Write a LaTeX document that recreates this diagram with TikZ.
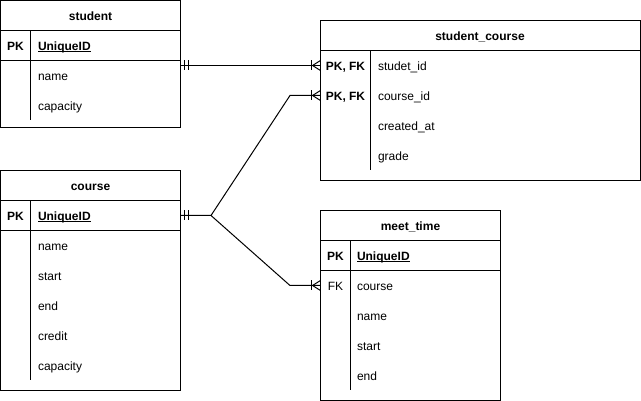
\documentclass[tikz,border=0pt]{standalone}
\usepackage{fontspec}
\setmainfont{Liberation Sans}
% underline set at a fixed depth, running through descenders
\newcommand\ulkey[1]{\setbox0\hbox{#1}\rlap{\rule[-1.7pt]{\wd0}{0.9pt}}\box0}
\begin{document}
\begin{tikzpicture}[x=1pt, y=-1pt, line width=1pt,
  every node/.style={inner sep=0pt, outer sep=0pt, text height=8.6pt, text depth=0pt,
    font=\fontsize{12}{14}\selectfont},
  tbox/.style={draw, rectangle, anchor=north west, text height=, text depth=},
  hdr/.style={font=\fontsize{12}{14}\selectfont\bfseries},
  keylbl/.style={font=\fontsize{12}{14}\selectfont\bfseries},
  fklbl/.style={},
  fld/.style={anchor=west},
  rel/.style={draw, line width=1pt},
  mandone/.pic={\draw (4,-5) -- (4,5); \draw (8,-5) -- (8,5);},
  manyend/.pic={\draw (-9,-5) -- (-9,5); \draw (0,-5) -- (-8,0) -- (0,5);}
]
\useasboundingbox (0,0) rectangle (641,401);

% ---------- student ----------
\node[tbox, minimum width=180pt, minimum height=127.5pt] (student) at (0.5,0.5) {};
\draw (0.5,30.5) -- (180.5,30.5);
\draw (0.5,60.5) -- (180.5,60.5);
\draw (30.5,30.5) -- (30.5,120);
\node[hdr] (student-h) at (90.5,16.5) {student};
\node[keylbl] (student-pk) at (15.5,46) {PK};
\node[fld] (student-id) at (38,46) {\ulkey{\bfseries UniqueID}};
\node[fld] (student-name) at (38,76) {name};
\node[fld] (student-cap) at (38,106) {capacity};

% ---------- course ----------
\node[tbox, minimum width=180pt, minimum height=220pt] (course) at (0.5,170.5) {};
\draw (0.5,200.5) -- (180.5,200.5);
\draw (0.5,230.5) -- (180.5,230.5);
\draw (30.5,200.5) -- (30.5,380);
\node[hdr] (course-h) at (90.5,186.5) {course};
\node[keylbl] (course-pk) at (15.5,216) {PK};
\node[fld] (course-id) at (38,216) {\ulkey{\bfseries UniqueID}};
\node[fld] (course-name) at (38,246) {name};
\node[fld] (course-start) at (38,276) {start};
\node[fld] (course-end) at (38,306) {end};
\node[fld] (course-credit) at (38,336) {credit};
\node[fld] (course-cap) at (38,366) {capacity};

% ---------- student_course ----------
\node[tbox, minimum width=319.5pt, minimum height=160pt] (sc) at (320.5,20.5) {};
\draw (320.5,50.5) -- (640,50.5);
\draw (370.5,50.5) -- (370.5,170);
\node[hdr] (sc-h) at (480,36.5) {student\_course};
\node[keylbl] (sc-k1) at (345.5,66) {PK, FK};
\node[keylbl] (sc-k2) at (345.5,96) {PK, FK};
\node[fld] (sc-sid) at (378,66) {studet\_id};
\node[fld] (sc-cid) at (378,96) {course\_id};
\node[fld] (sc-created) at (378,126) {created\_at};
\node[fld] (sc-grade) at (378,156) {grade};

% ---------- meet_time ----------
\node[tbox, minimum width=180pt, minimum height=189.5pt] (mt) at (320.5,210.5) {};
\draw (320.5,240.5) -- (500.5,240.5);
\draw (320.5,270.5) -- (500.5,270.5);
\draw (350.5,240.5) -- (350.5,390);
\node[hdr] (mt-h) at (410.5,226.5) {meet\_time};
\node[keylbl] (mt-pk) at (335.5,256) {PK};
\node[fld] (mt-id) at (357,256) {\ulkey{\bfseries UniqueID}};
\node[fklbl] (mt-fk) at (335.5,286) {FK};
\node[fld] (mt-course) at (357,286) {course};
\node[fld] (mt-name) at (357,316) {name};
\node[fld] (mt-start) at (357,346) {start};
\node[fld] (mt-end) at (357,376) {end};

% ---------- relationships ----------
\coordinate (split) at (211,215.5);
\coordinate (bendup) at (290,95.5);
\coordinate (benddown) at (290,285.5);

% student ||--|< student_course.studet_id
\draw[rel] (student.east |- 0,65.5) -- (sc.west |- 0,65.5);
\pic at (student.east |- 0,65.5) {mandone};
\pic at (sc.west |- 0,65.5) {manyend};

% course ||--|< student_course.course_id
\draw[rel] (course.east |- split) -- (split) -- (bendup) -- (sc.west |- bendup);
\pic at (course.east |- split) {mandone};
\pic at (sc.west |- bendup) {manyend};

% course ||--|< meet_time.course
\draw[rel] (split) -- (benddown) -- (mt.west |- benddown);
\pic at (mt.west |- benddown) {manyend};

\end{tikzpicture}
\end{document}
